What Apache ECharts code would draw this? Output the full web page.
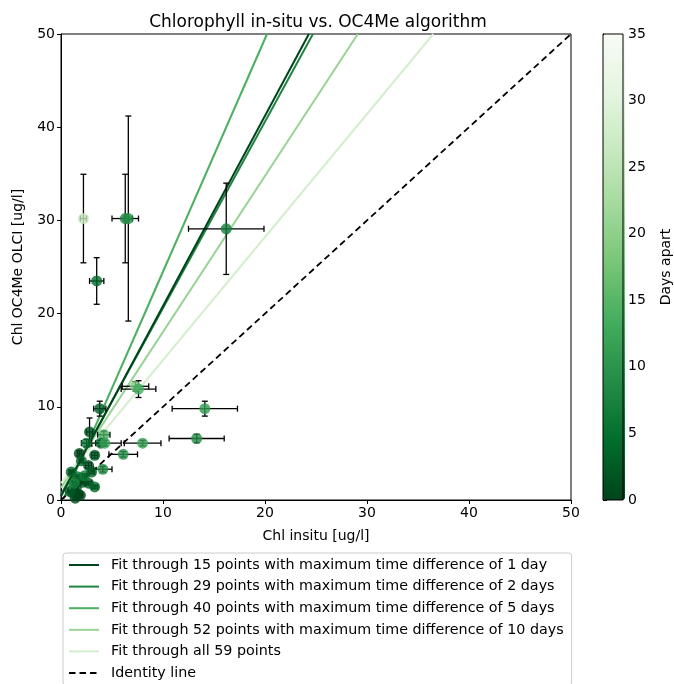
<!DOCTYPE html>
<html>
<head>
<meta charset="utf-8">
<script src="https://cdn.jsdelivr.net/npm/echarts@6/dist/echarts.min.js"></script>
<style>html,body{margin:0;padding:0;background:#fff;}#c{width:674px;height:684px;}</style>
</head>
<body>
<div id="c"></div>
<script>
// ---- data ----
var xInsitu = [2.2, 6.3, 6.6, 3.5, 16.2, 7.3, 7.6, 14.1, 13.3, 8.0, 6.1, 3.8, 2.8, 4.2, 2.5, 3.9, 1.8, 3.3, 2.7, 4.1, 1.0, 2.7, 3.3, 1.5, 1.9, 1.4, 1.2, 1.7, 2.1, 1.6, 2.3, 0.9, 3.0, 1.3, 2.0, 4.3];
var yOlci   = [30.2, 30.2, 30.2, 23.5, 29.1, 12.2, 11.9, 9.8, 6.6, 6.1, 4.9, 9.8, 7.3, 7.0, 6.1, 6.1, 5.0, 4.8, 3.7, 3.3, 3.0, 1.8, 1.4, 1.3, 0.5, 0.2, 0.7, 0.6, 1.9, 2.5, 2.6, 0.9, 3.0, 1.8, 4.2, 6.1];
var xErr    = [0.3, 1.3, 0.4, 0.7, 3.7, 1.3, 1.7, 3.2, 2.7, 1.8, 1.4, 0.6, 0.3, 0.6, 0.5, 0.5, 0.2, 0.3, 0.3, 0.9, 0.2, 0.3, 0.3, 0.2, 0.2, 0.2, 0.2, 0.2, 0.2, 0.2, 0.2, 0.2, 0.3, 0.2, 0.2, 1.6];
var yErr    = [4.75, 4.75, 11.0, 2.5, 4.9, 0.5, 0.9, 0.8, 0.45, 0.3, 0.3, 0.8, 1.5, 0.4, 0.4, 0.3, 0.3, 0.3, 0.3, 0.3, 0.2, 0.2, 0.2, 0.2, 0.1, 0.1, 0.1, 0.1, 0.2, 0.2, 0.2, 0.1, 0.2, 0.2, 0.2, 0.3];
var daysApart = [26, 8, 9, 4, 7, 19, 13, 11, 9, 12, 10, 2, 1, 14, 6, 3, 0.5, 2, 1, 9, 3, 2, 4, 1, 0, 1, 2, 0, 1, 5, 6, 2, 3, 7, 3, 12];

var fitNames = [
  'Fit through 15 points with maximum time difference of 1 day',
  'Fit through 29 points with maximum time difference of 2 days',
  'Fit through 40 points with maximum time difference of 5 days',
  'Fit through 52 points with maximum time difference of 10 days',
  'Fit through all 59 points'
];
var fitStart = [[0, 0.4], [0, 0.6], [0.2, 0], [0, 1.3], [0, 1.8]];
var fitEnd   = [[24.3, 50], [24.7, 50], [20.2, 50], [29.1, 50], [36.5, 50]];
var fitColors = ['#00441b', '#1f8441', '#4caf62', '#98d495', '#d4eecf'];
var identityName = 'Identity line';
var identityLine = [[0, 0], [50, 50]];
var greens = ['#00441b', '#006d2c', '#238b45', '#41ab5d', '#74c476', '#a1d99b', '#c7e9c0', '#e5f5e0', '#f7fcf5'];

// ---- build ----
var pts = xInsitu.map(function (x, i) { return [x, yOlci[i], xErr[i], yErr[i], daysApart[i]]; });
var font = 'DejaVu Sans';
var chart = echarts.init(document.getElementById('c'), null, {renderer: 'canvas'});

var series = [];
fitNames.forEach(function (n, i) {
  series.push({
    name: n, type: 'line', xAxisIndex: 0, yAxisIndex: 0,
    data: [fitStart[i], fitEnd[i]], showSymbol: false, symbol: 'none',
    lineStyle: {color: fitColors[i], width: 2}, itemStyle: {color: fitColors[i]},
    z: 3 + (i === 0 ? 1 : 0), silent: true, animation: false, clip: true
  });
});
series.push({
  name: identityName, type: 'line', xAxisIndex: 0, yAxisIndex: 0,
  data: identityLine, showSymbol: false, symbol: 'none',
  lineStyle: {color: '#000', width: 1.8, type: [6.5, 4]}, itemStyle: {color: '#000'},
  z: 3, silent: true, animation: false
});
series.push({
  type: 'custom', xAxisIndex: 0, yAxisIndex: 0, data: pts, z: 5, silent: true, animation: false,
  renderItem: function (params, api) {
    var x = api.value(0), y = api.value(1), xe = api.value(2), ye = api.value(3);
    var l = api.coord([x - xe, y]), r = api.coord([x + xe, y]);
    var t = api.coord([x, y + ye]), b = api.coord([x, y - ye]);
    var c = 3;
    var st = {stroke: '#000', lineWidth: 1.3};
    var shapes = [
      [l[0], l[1], r[0], r[1]], [l[0], l[1] - c, l[0], l[1] + c], [r[0], r[1] - c, r[0], r[1] + c],
      [t[0], t[1], b[0], b[1]], [t[0] - c, t[1], t[0] + c, t[1]], [b[0] - c, b[1], b[0] + c, b[1]]
    ];
    return {type: 'group', children: shapes.map(function (s) {
      return {type: 'line', shape: {x1: s[0], y1: s[1], x2: s[2], y2: s[3]}, style: st};
    })};
  }
});
var scatterIndex = series.length;
series.push({
  type: 'scatter', xAxisIndex: 0, yAxisIndex: 0, data: pts, symbolSize: 11, z: 6,
  encode: {x: 0, y: 1}, silent: true, animation: false
});

chart.setOption({
  animation: false,
  backgroundColor: '#fff',
  textStyle: {fontFamily: font},
  title: {text: 'Chlorophyll in-situ vs. OC4Me algorithm', left: 313, top: 9, textAlign: 'center',
    textStyle: {fontFamily: font, fontSize: 17, fontWeight: 'normal', color: '#000'}},
  grid: [
    {left: 61, top: 34, width: 510, height: 466, show: true, borderColor: '#000', borderWidth: 1, backgroundColor: 'transparent'},
    {left: 603, top: 34, width: 22, height: 466, show: true, borderColor: '#000', borderWidth: 1, backgroundColor: 'transparent', z: 10}
  ],
  xAxis: [
    {type: 'value', gridIndex: 0, min: 0, max: 50, interval: 10, name: 'Chl insitu [ug/l]', nameLocation: 'middle', nameGap: 29,
      nameTextStyle: {fontFamily: font, fontSize: 14, color: '#000'},
      axisLine: {show: true, onZero: false, lineStyle: {color: '#000'}}, axisTick: {show: true, length: 4, lineStyle: {color: '#000'}},
      axisLabel: {fontFamily: font, fontSize: 14, color: '#000', margin: 6}, splitLine: {show: false}},
    {type: 'value', gridIndex: 1, min: 0, max: 1, show: false}
  ],
  yAxis: [
    {type: 'value', gridIndex: 0, min: 0, max: 50, interval: 10, name: 'Chl OC4Me OLCI [ug/l]', nameLocation: 'middle', nameGap: 36,
      nameTextStyle: {fontFamily: font, fontSize: 14, color: '#000'},
      axisLine: {show: true, onZero: false, lineStyle: {color: '#000'}}, axisTick: {show: true, length: 4, lineStyle: {color: '#000'}},
      axisLabel: {fontFamily: font, fontSize: 14, color: '#000', margin: 6}, splitLine: {show: false}},
    {type: 'value', gridIndex: 1, position: 'right', min: 0, max: 35, interval: 5, name: 'Days apart', nameLocation: 'middle', nameGap: 36, nameRotate: 90,
      nameTextStyle: {fontFamily: font, fontSize: 14, color: '#000'},
      axisLine: {show: true, lineStyle: {color: '#000'}}, axisTick: {show: true, length: 4, lineStyle: {color: '#000'}},
      axisLabel: {fontFamily: font, fontSize: 14, color: '#000', margin: 5}, splitLine: {show: false}}
  ],
  visualMap: {
    type: 'continuous', min: 0, max: 35, dimension: 4, seriesIndex: scatterIndex,
    inRange: {color: greens}, left: 603, top: 34, itemWidth: 22, itemHeight: 466, padding: 0,
    calculable: false, hoverLink: false, text: null, showLabel: false, textGap: 0, textStyle: {color: 'transparent'}
  },
  legend: {
    orient: 'vertical', left: 63, top: 553, height: 150, padding: [5, 8, 5, 5], itemGap: 7.6, itemWidth: 30, itemHeight: 14,
    borderColor: '#ccc', borderWidth: 1, borderRadius: 3, backgroundColor: '#fff',
    data: fitNames.concat([identityName]),
    itemStyle: {opacity: 0},
    textStyle: {fontFamily: font, fontSize: 14.3, color: '#000', padding: [0, 0, 0, 7]},
    selectedMode: false
  },
  series: series
});
</script>
</body>
</html>
